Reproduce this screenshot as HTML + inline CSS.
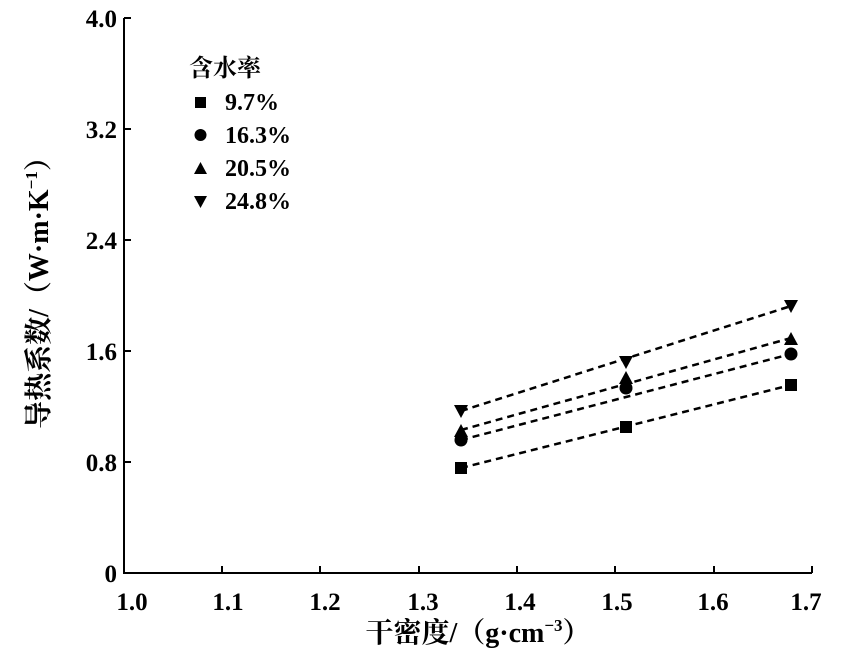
<!DOCTYPE html>
<html><head><meta charset="utf-8"><style>
body{margin:0;background:#fff}
svg text{font-family:"Liberation Serif","Noto Serif CJK SC",serif;font-weight:bold;fill:#000}
</style></head><body>
<svg width="849" height="655" xmlns="http://www.w3.org/2000/svg">
<g stroke="#000" stroke-width="2" fill="none">
<path d="M124,18 V573 H812"/>
<path d="M124,18 h7 M124,129 h7 M124,240 h7 M124,351 h7 M124,462 h7"/>
<path d="M222,573 v-7 M320,573 v-7 M419,573 v-7 M517,573 v-7 M615,573 v-7 M714,573 v-7 M812,573 v-7"/>
</g>
<g font-size="25" text-anchor="end">
<text x="117" y="27">4.0</text><text x="117" y="138">3.2</text><text x="117" y="249">2.4</text>
<text x="117" y="360">1.6</text><text x="117" y="471">0.8</text><text x="117" y="582">0</text>
</g>
<g font-size="25" text-anchor="middle">
<text x="132" y="610">1.0</text><text x="228" y="610">1.1</text><text x="325" y="610">1.2</text>
<text x="423" y="610">1.3</text><text x="520" y="610">1.4</text><text x="617" y="610">1.5</text>
<text x="713" y="610">1.6</text><text x="806" y="610">1.7</text>
</g>
<g font-size="28" text-anchor="middle">
<text x="478" y="642">干密度/（g·cm<tspan font-size="17" dy="-11">−3</tspan><tspan dy="11">）</tspan></text>
<text transform="translate(48,286) rotate(-90)">导热系数/（W·m·K<tspan font-size="17" dy="-11">−1</tspan><tspan dy="11">）</tspan></text>
</g>
<g stroke="#000" stroke-width="2.5" stroke-dasharray="7,5" fill="none">
<path d="M461,468 L791,385"/>
<path d="M461,440 L791,354"/>
<path d="M461,430 L791,338"/>
<path d="M461,411 L791,306"/>
</g>
<g fill="#000">
<rect x="455" y="462" width="12" height="12"/><rect x="620" y="421" width="12" height="12"/><rect x="785" y="379" width="12" height="12"/>
<circle cx="461" cy="440" r="6.5"/><circle cx="626" cy="388" r="6.5"/><circle cx="791" cy="354" r="6.5"/>
<path d="M454,437 L461,424 L468,437Z"/><path d="M619,384 L626,371 L633,384Z"/><path d="M784,345 L791,332 L798,345Z"/>
<path d="M454,405 L468,405 L461,418Z"/><path d="M619,356 L633,356 L626,369Z"/><path d="M784,300 L798,300 L791,313Z"/>
</g>
<g font-size="24">
<text x="189" y="76">含水率</text>
<rect x="195" y="97" width="11" height="11"/><text x="225" y="110">9.7%</text>
<circle cx="200.5" cy="135" r="6"/><text x="225" y="143">16.3%</text>
<path d="M194,174 L200.5,162 L207,174Z"/><text x="225" y="176">20.5%</text>
<path d="M194,196 L207,196 L200.5,208Z"/><text x="225" y="209">24.8%</text>
</g>
</svg>
</body></html>
